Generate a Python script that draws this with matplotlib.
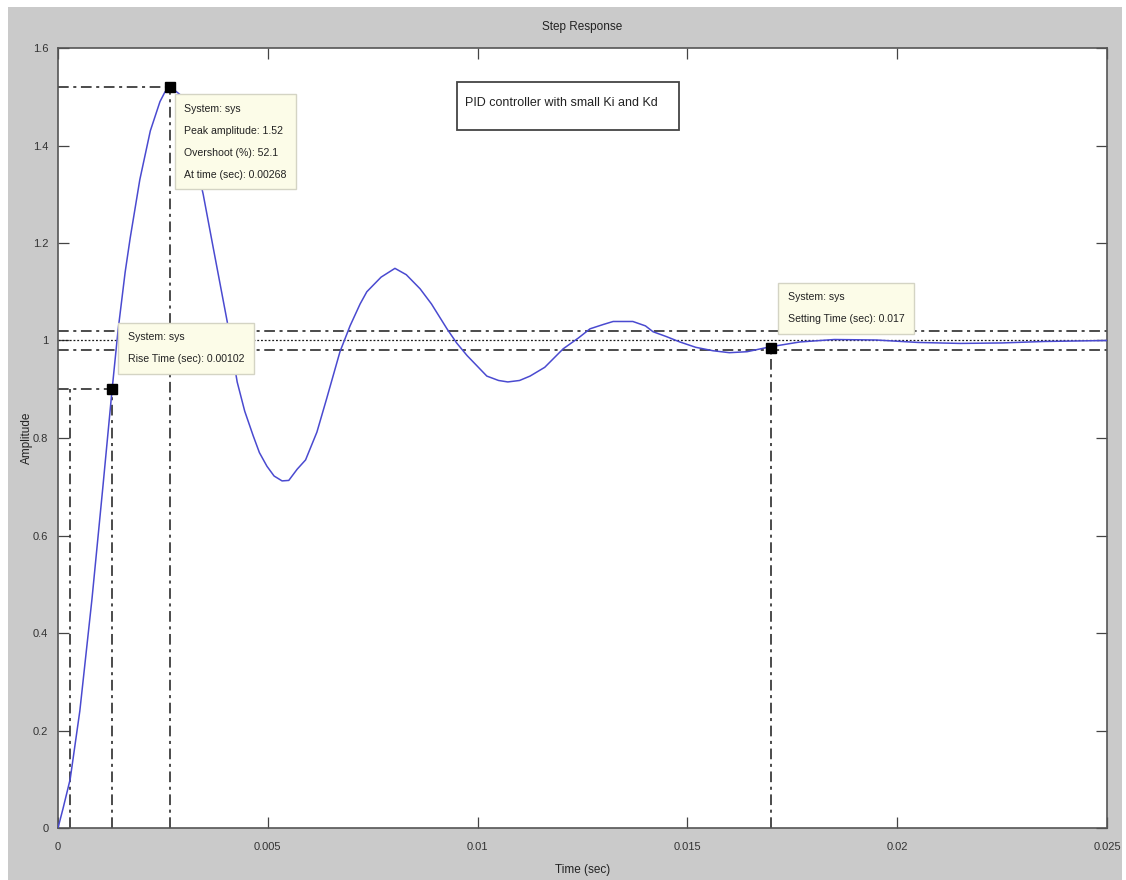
import matplotlib.pyplot as plt
from matplotlib.patches import Rectangle

plt.rcParams['font.family'] = ['Liberation Sans Narrow', 'Liberation Sans', 'DejaVu Sans']

# step response
t_vals = [0, 0.00012, 0.00029, 0.00052, 0.00081, 0.00107, 0.00129, 0.00143,
          0.00160, 0.00172, 0.00195, 0.00220, 0.00243, 0.00255, 0.00268, 0.00290,
          0.00310, 0.00325, 0.00346, 0.00370, 0.00403, 0.00427, 0.00445, 0.00465,
          0.00480, 0.00498, 0.00515, 0.00534, 0.00550, 0.00570, 0.00590, 0.00617,
          0.00640, 0.00672, 0.00696, 0.00720, 0.00736, 0.00770, 0.00803, 0.00830,
          0.00863, 0.00890, 0.00927, 0.00950, 0.00975, 0.01022, 0.01050, 0.01072,
          0.01100, 0.01125, 0.01160, 0.01204, 0.01240, 0.01268, 0.01300, 0.01323,
          0.01370, 0.01400, 0.01418, 0.01450, 0.01482, 0.01520, 0.01561, 0.01600,
          0.01642, 0.01697, 0.01768, 0.0185, 0.0195, 0.0205, 0.0215, 0.0225, 0.0235, 0.025]
y_vals = [0, 0.04, 0.10, 0.24, 0.47, 0.70, 0.90, 1.02,
          1.14, 1.21, 1.33, 1.43, 1.49, 1.51, 1.52, 1.505,
          1.46, 1.38, 1.30, 1.19, 1.04, 0.915, 0.855, 0.805,
          0.77, 0.742, 0.722, 0.712, 0.713, 0.736, 0.755, 0.812,
          0.88, 0.977, 1.03, 1.075, 1.10, 1.13, 1.148, 1.135,
          1.106, 1.075, 1.024, 0.995, 0.969, 0.927, 0.918, 0.915,
          0.918, 0.927, 0.945, 0.983, 1.005, 1.024, 1.033, 1.039,
          1.039, 1.030, 1.018, 1.008, 0.997, 0.986, 0.979, 0.975,
          0.977, 0.987, 0.997, 1.002, 1.001, 0.996, 0.994, 0.995, 0.998, 1.0]

# characteristics
peak_t, peak_y = 0.00268, 1.52
rise_t0, rise_t1, rise_y = 0.00029, 0.00129, 0.90
settle_t, settle_y = 0.017, 0.985
settle_band = [0.98, 1.02]
final_value = 1.0

x_ticks = [0, 0.005, 0.01, 0.015, 0.02, 0.025]
x_labels = ['0', '0.005', '0.01', '0.015', '0.02', '0.025']
y_ticks = [0, 0.2, 0.4, 0.6, 0.8, 1.0, 1.2, 1.4, 1.6]
y_labels = ['0', '0.2', '0.4', '0.6', '0.8', '1', '1.2', '1.4', '1.6']

W, H = 1126, 880
fig = plt.figure(figsize=(W / 100, H / 100), dpi=100, facecolor='white')
fig.patches.append(Rectangle((8 / W, 0), 1114 / W, 873 / H, transform=fig.transFigure,
                             facecolor='#cacaca', edgecolor='none', zorder=-10))
ax = fig.add_axes([58 / W, 52 / H, 1049 / W, 780 / H])

lc = '#1a1a1a'
dd = (0, (7, 3, 2, 3))
# settling band and final value
for v in settle_band:
    ax.axhline(v, color=lc, lw=1.1, ls=dd, zorder=2)
ax.axhline(final_value, color=lc, lw=0.9, ls=(0, (1.5, 1.5)), zorder=2)

# peak guides
ax.plot([0, peak_t], [peak_y, peak_y], color=lc, lw=1.1, ls=dd, zorder=2)
ax.plot([peak_t, peak_t], [0, peak_y], color=lc, lw=1.1, ls=dd, zorder=2)
# rise time guides
ax.plot([0, rise_t1], [rise_y, rise_y], color=lc, lw=1.1, ls=dd, zorder=2)
ax.plot([rise_t0, rise_t0], [0, rise_y], color=lc, lw=1.1, ls=dd, zorder=2)
ax.plot([rise_t1, rise_t1], [0, rise_y], color=lc, lw=1.1, ls=dd, zorder=2)
# settling guide
ax.plot([settle_t, settle_t], [0, settle_y], color=lc, lw=1.1, ls=dd, zorder=2)

ax.plot(t_vals, y_vals, color='#4a4ad0', lw=1.1, zorder=3)

for tx, ty in [(peak_t, peak_y), (rise_t1, rise_y), (settle_t, settle_y)]:
    ax.plot(tx, ty, marker='s', ms=7, color='black', zorder=6)

box = dict(boxstyle='square,pad=0.9', facecolor='#fcfce8', edgecolor='#d4d4c4', lw=1)
tip = dict(fontsize=7.6, va='top', ha='left', linespacing=2.5, bbox=box, zorder=5, color='#222222')
ax.text(0.00301, 1.486, 'System: sys\nPeak amplitude: 1.52\nOvershoot (%): 52.1\nAt time (sec): 0.00268', **tip)
ax.text(0.00166, 1.017, 'System: sys\nRise Time (sec): 0.00102', **tip)
ax.text(0.01739, 1.099, 'System: sys\nSetting Time (sec): 0.017', **tip)

# note box
ax.add_patch(Rectangle((0.380, 0.895), 0.212, 0.061, transform=ax.transAxes,
                       facecolor='white', edgecolor='#444444', lw=1.3, zorder=5))
ax.text(0.388, 0.929, 'PID controller with small Ki and Kd', transform=ax.transAxes,
        fontsize=9, va='center', ha='left', color='#222222', zorder=6)

ax.set_xlim(0, 0.025)
ax.set_ylim(0, 1.6)
ax.set_xticks(x_ticks)
ax.set_xticklabels(x_labels)
ax.set_yticks(y_ticks)
ax.set_yticklabels(y_labels)
ax.tick_params(direction='in', length=8, width=0.9, top=True, right=True,
               labelsize=8, labelcolor='#333333', color='#444444')
ax.tick_params(axis='x', pad=10)
ax.tick_params(axis='y', pad=7)
for s in ax.spines.values():
    s.set_color('#555555')
    s.set_linewidth(1.2)

ax.set_title('Step Response', fontsize=8.5, pad=13, color='#222222')
ax.set_xlabel('Time (sec)', fontsize=8.5, labelpad=9, color='#222222')
ax.set_ylabel('Amplitude', fontsize=8.5, labelpad=0, color='#222222')

fig.savefig('out.png', dpi=100, facecolor=fig.get_facecolor())
